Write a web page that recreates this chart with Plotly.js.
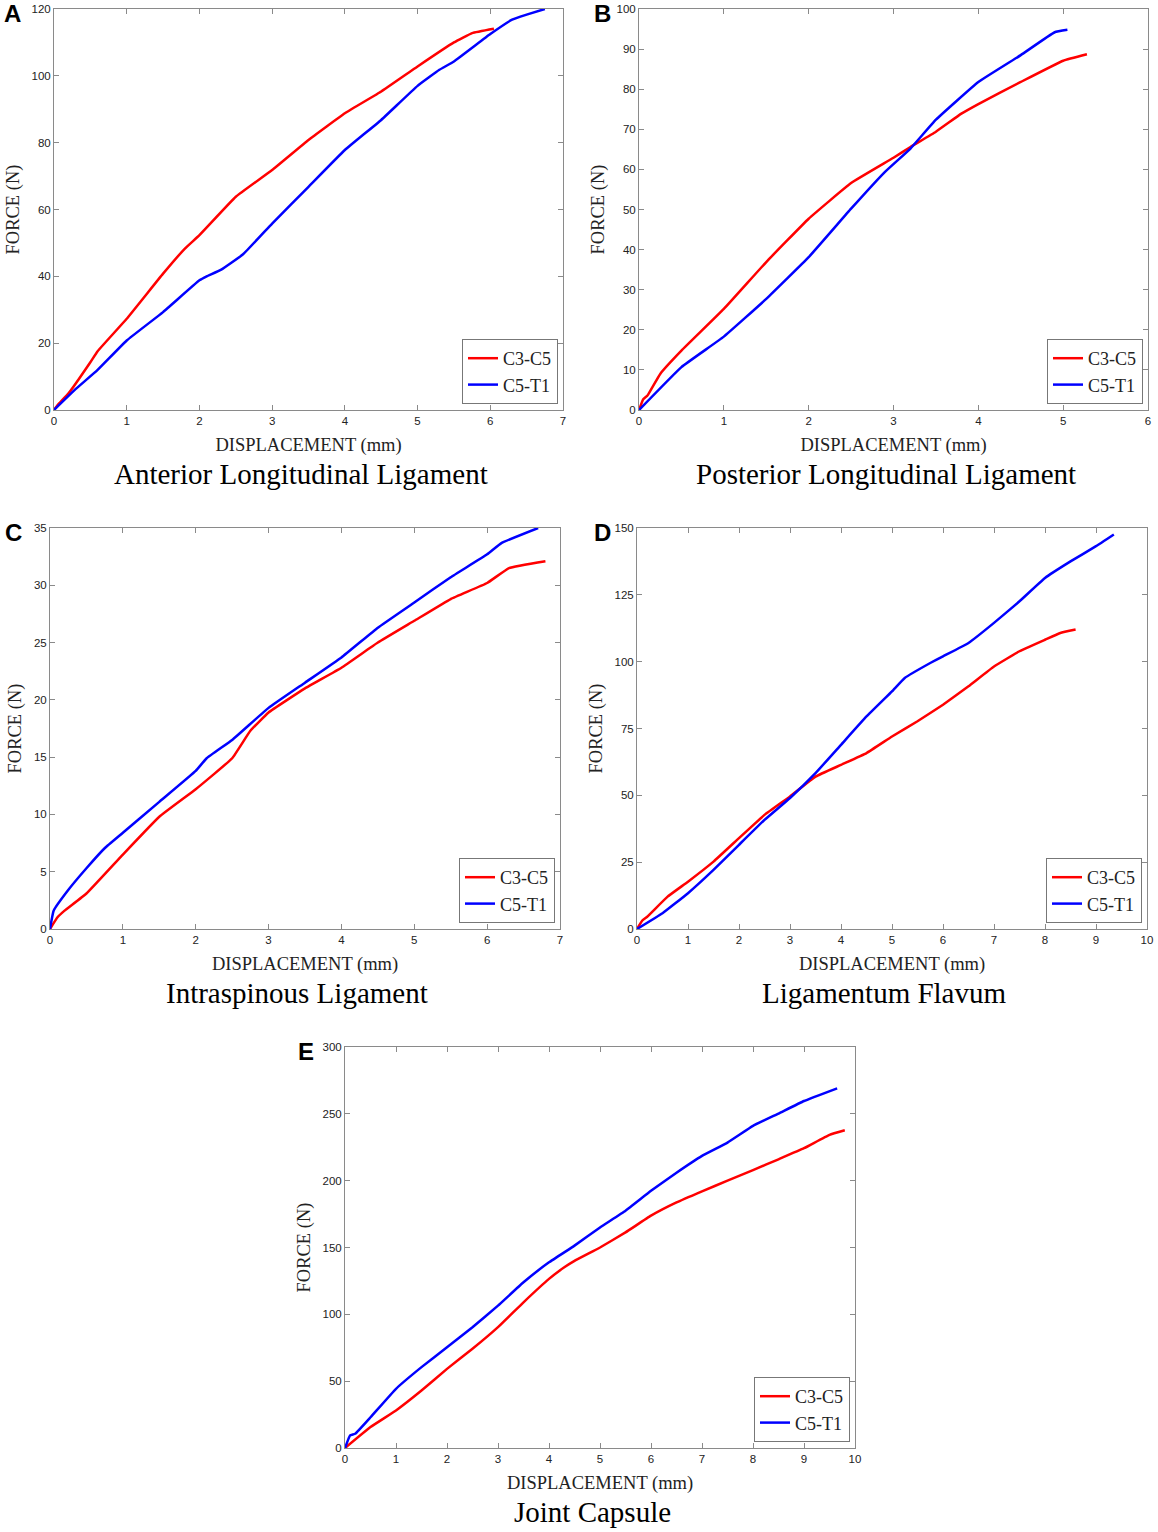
<!DOCTYPE html>
<html>
<head>
<meta charset="utf-8">
<script src="https://cdn.plot.ly/plotly-3.0.1.min.js"></script>
<style>html,body{margin:0;padding:0;background:#fff}#chart{width:1158px;height:1532px}</style>
</head>
<body>
<div id="chart"></div>
<script>
// ---- Panel A: Anterior Longitudinal Ligament ----
const A_redX = [0, 0.05, 0.2, 0.5, 0.6, 1.0, 1.5, 1.8, 2.0, 2.5, 3.0, 3.5, 4.0, 4.5, 5.0, 5.5, 5.75, 6.05];
const A_redY = [0, 1.5, 5, 14.3, 17.6, 27.3, 40.8, 48.3, 52.3, 63.8, 71.8, 80.8, 88.8, 95.3, 102.8, 110, 112.8, 114.1];
const A_blueX = [0, 0.3, 0.6, 1.0, 1.5, 2.0, 2.1, 2.3, 2.6, 3.0, 3.5, 4.0, 4.5, 5.0, 5.3, 5.5, 6.0, 6.3, 6.5, 6.75];
const A_blueY = [0, 6.3, 12, 20.8, 29.3, 38.8, 40, 42, 46.6, 55.8, 66.8, 77.8, 86.8, 97, 101.8, 104.3, 112.5, 116.8, 118.3, 120];

// ---- Panel B: Posterior Longitudinal Ligament ----
const B_redX = [0, 0.05, 0.1, 0.25, 0.5, 1.0, 1.5, 2.0, 2.5, 3.0, 3.2, 3.5, 3.8, 4.0, 4.5, 5.0, 5.28];
const B_redY = [0, 2.7, 3.6, 9, 14.8, 25.2, 36.9, 47.7, 56.6, 62.9, 65.6, 69.4, 73.9, 76.3, 81.8, 87.1, 88.7];
const B_blueX = [0, 0.5, 1.0, 1.5, 2.0, 2.5, 2.9, 3.2, 3.5, 4.0, 4.5, 4.9, 5.05];
const B_blueY = [0, 10.7, 18.3, 27.7, 38.1, 50.2, 59.4, 65.2, 72.4, 81.8, 88.5, 94.2, 94.8];

// ---- Panel C: Intraspinous Ligament ----
const C_redX = [0, 0.1, 0.2, 0.5, 1.0, 1.5, 2.0, 2.5, 2.75, 3.0, 3.5, 4.0, 4.5, 5.0, 5.5, 6.0, 6.3, 6.8];
const C_redY = [0, 1.0, 1.6, 3.1, 6.5, 9.8, 12.2, 14.9, 17.3, 18.9, 21.0, 22.8, 25.0, 26.9, 28.8, 30.2, 31.5, 32.1];
const C_blueX = [0, 0.05, 0.25, 0.5, 0.75, 1.0, 1.5, 2.0, 2.15, 2.5, 3.0, 3.5, 4.0, 4.5, 5.0, 5.5, 6.0, 6.2, 6.7];
const C_blueY = [0, 1.6, 3.4, 5.3, 7.05, 8.4, 11.1, 13.8, 14.9, 16.5, 19.3, 21.5, 23.7, 26.3, 28.5, 30.7, 32.7, 33.7, 35.0];

// ---- Panel D: Ligamentum Flavum ----
const D_redX = [0, 0.1, 0.2, 0.6, 1.0, 1.5, 2.0, 2.5, 3.0, 3.5, 4.0, 4.5, 5.0, 5.5, 6.0, 6.5, 7.0, 7.5, 8.0, 8.3, 8.6];
const D_redY = [0, 3.1, 4.6, 12.1, 17.7, 25.2, 34.0, 42.7, 49.6, 57.0, 61.4, 65.8, 72.0, 77.7, 83.9, 90.8, 98.2, 103.9, 108.2, 110.7, 112.0];
const D_blueX = [0, 0.5, 1.0, 1.5, 2.0, 2.5, 3.0, 3.5, 4.0, 4.5, 5.0, 5.25, 5.75, 6.0, 6.5, 7.0, 7.5, 8.0, 8.5, 9.0, 9.35];
const D_blueY = [0, 5.9, 13.4, 22.1, 31.5, 40.8, 49.0, 58.3, 68.9, 79.5, 88.9, 93.9, 99.5, 102.0, 107.0, 114.5, 122.6, 131.3, 137.5, 143.2, 147.6];

// ---- Panel E: Joint Capsule ----
const E_redX = [0, 0.5, 1.0, 1.5, 2.0, 2.5, 3.0, 3.5, 4.0, 4.3, 4.5, 5.0, 5.5, 6.0, 6.5, 7.0, 7.5, 8.0, 8.5, 9.0, 9.5, 9.8];
const E_redY = [0, 15.7, 28.1, 43.0, 59.2, 74.2, 90.4, 109.0, 126.5, 135.2, 140.0, 150.0, 161.3, 173.8, 183.7, 192.0, 200.0, 207.9, 216.0, 224.3, 234.3, 237.7];
const E_blueX = [0, 0.1, 0.2, 0.5, 1.0, 1.5, 2.0, 2.5, 3.0, 3.5, 4.0, 4.5, 5.0, 5.5, 6.0, 6.5, 7.0, 7.5, 8.0, 8.5, 9.0, 9.65];
const E_blueY = [0, 9.5, 10.7, 23.0, 44.3, 60.5, 75.4, 90.4, 106.5, 124.0, 138.9, 151.4, 165.0, 177.5, 192.4, 206.0, 218.6, 228.5, 241.0, 250.2, 259.6, 269.1];

const seriesNames = ['C3-C5', 'C5-T1'];
const panelLetters = ['A', 'B', 'C', 'D', 'E'];
const panelTitles = ['Anterior Longitudinal Ligament', 'Posterior Longitudinal Ligament', 'Intraspinous Ligament', 'Ligamentum Flavum', 'Joint Capsule'];
const xTitle = 'DISPLACEMENT (mm)';
const yTitle = 'FORCE (N)';

const W = 1158, H = 1532;
const SANS = 'Liberation Sans, Arial, sans-serif';
const SERIF = 'Liberation Serif, Times New Roman, serif';
const RED = '#ff0000', BLUE = '#0000ff';

// pixel boxes for panels [left, right, top, bottom]
const boxes = [
  [54, 563, 9, 410],
  [639, 1148, 9, 410],
  [50, 560, 528, 929],
  [637, 1147, 528, 929],
  [345, 855, 1047, 1448]
];
const letterLeft = [2, 592, 3, 592, 296];
const xRanges = [[0, 7], [0, 6], [0, 7], [0, 10], [0, 10]];
const yRanges = [[0, 120], [0, 100], [0, 35], [0, 150], [0, 300]];
const yDticks = [20, 10, 5, 25, 50];
const data = [
  [A_redX, A_redY, A_blueX, A_blueY],
  [B_redX, B_redY, B_blueX, B_blueY],
  [C_redX, C_redY, C_blueX, C_blueY],
  [D_redX, D_redY, D_blueX, D_blueY],
  [E_redX, E_redY, E_blueX, E_blueY]
];

const traces = [];
const layout = {
  width: W, height: H,
  margin: {l: 0, r: 0, t: 0, b: 0},
  paper_bgcolor: '#ffffff', plot_bgcolor: '#ffffff',
  showlegend: true,
  annotations: []
};

boxes.forEach((b, i) => {
  const n = i === 0 ? '' : String(i + 1);
  const xa = 'x' + n, ya = 'y' + n;
  const leg = i === 0 ? 'legend' : 'legend' + (i + 1);
  const d = data[i];
  traces.push({x: d[0], y: d[1], type: 'scatter', mode: 'lines', name: seriesNames[0],
    line: {color: RED, width: 2.5, shape: 'spline', smoothing: 0.3}, xaxis: xa, yaxis: ya, legend: leg});
  traces.push({x: d[2], y: d[3], type: 'scatter', mode: 'lines', name: seriesNames[1],
    line: {color: BLUE, width: 2.5, shape: 'spline', smoothing: 0.3}, xaxis: xa, yaxis: ya, legend: leg});

  const axCommon = {
    showline: true, linecolor: '#8a8a8a', linewidth: 1, mirror: 'ticks',
    ticks: 'inside', ticklen: 5, tickcolor: '#8a8a8a', tickwidth: 1,
    showgrid: false, zeroline: false, fixedrange: true,
    tickfont: {family: SANS, size: 11.5, color: '#222'}
  };
  layout['xaxis' + n] = Object.assign({}, axCommon, {
    domain: [b[0] / W, b[1] / W], anchor: ya, range: xRanges[i], dtick: 1, tick0: 0,
    title: {text: xTitle, font: {family: SERIF, size: 18.5, color: '#222'}, standoff: 12}
  });
  layout['yaxis' + n] = Object.assign({}, axCommon, {
    domain: [1 - b[3] / H, 1 - b[2] / H], anchor: xa, range: yRanges[i], dtick: yDticks[i], tick0: 0,
    title: {text: yTitle, font: {family: SERIF, size: 18.5, color: '#222'}, standoff: 7}
  });
  layout[leg] = {
    x: (b[1] - 5) / W, y: 1 - (b[3] - 6) / H, xanchor: 'right', yanchor: 'bottom',
    xref: 'paper', yref: 'paper',
    bgcolor: '#ffffff', bordercolor: '#777', borderwidth: 1,
    font: {family: SERIF, size: 18, color: '#222'},
    tracegroupgap: 0, itemwidth: 30
  };
  // panel letter
  layout.annotations.push({
    text: '<b>' + panelLetters[i] + '</b>', xref: 'paper', yref: 'paper',
    x: letterLeft[i] / W, y: 1 - (b[2] - 11) / H, xanchor: 'left', yanchor: 'top', showarrow: false,
    font: {family: SANS, size: 24, color: '#000'}
  });
  // panel title
  layout.annotations.push({
    text: panelTitles[i], xref: 'paper', yref: 'paper',
    x: ((b[0] + b[1]) / 2 - 8) / W, y: 1 - (b[3] + 64) / H, xanchor: 'center', yanchor: 'middle', showarrow: false,
    font: {family: SERIF, size: 29, color: '#000'}
  });
});

Plotly.newPlot('chart', traces, layout, {staticPlot: true, displayModeBar: false});
</script>
</body>
</html>
